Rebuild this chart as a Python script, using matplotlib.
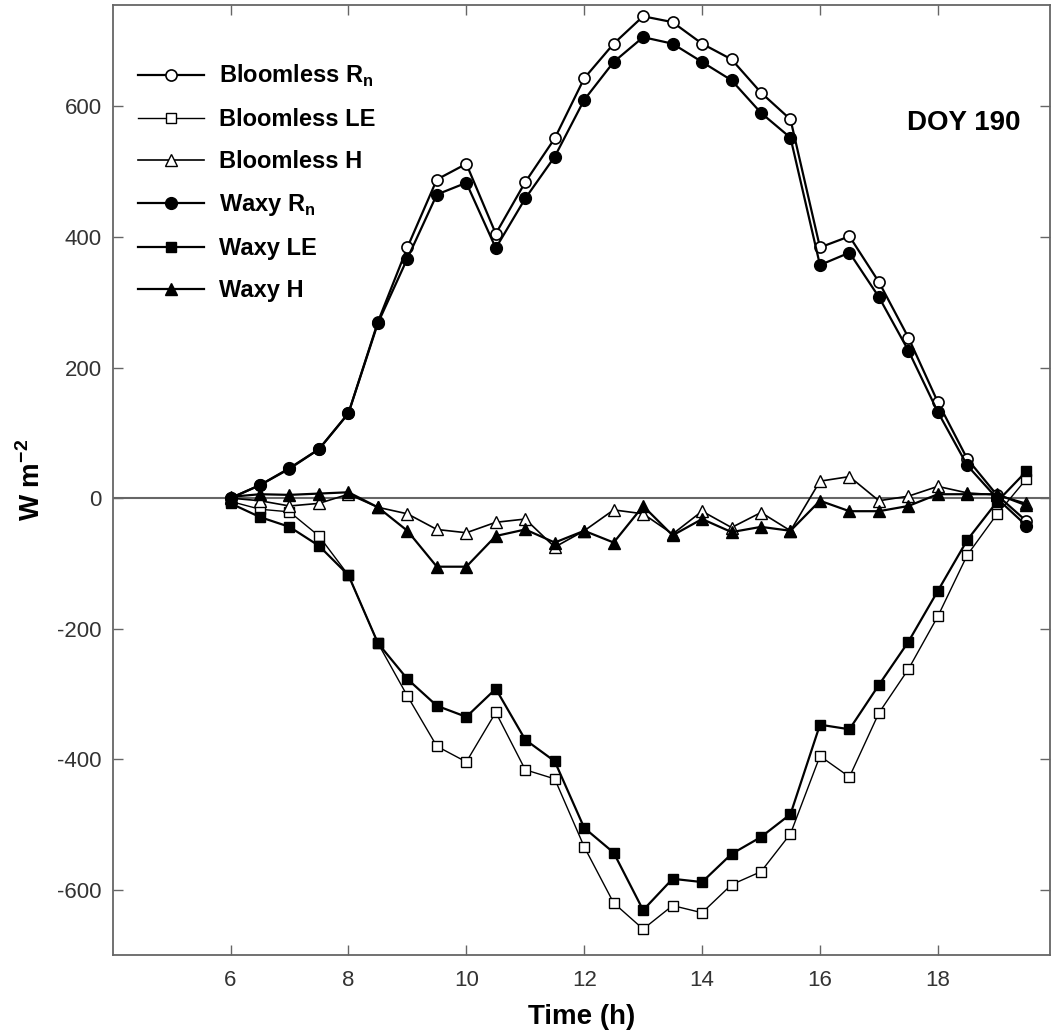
import numpy as np
import matplotlib.pyplot as plt

plt.rcParams['font.family'] = ['Liberation Sans', 'DejaVu Sans']
plt.rcParams['mathtext.fontset'] = 'custom'
plt.rcParams['mathtext.rm'] = 'Liberation Sans'
plt.rcParams['mathtext.bf'] = 'Liberation Sans:bold'
plt.rcParams['axes.unicode_minus'] = False

# Hora del día (h)
time_h = np.arange(6, 19.51, 0.5)

# Flujos (W m-2)
bloomless_rn = [0, 20, 45, 75, 130, 270, 384, 488, 512, 405, 484, 551, 643, 696,
                738, 729, 696, 672, 621, 580, 384, 401, 331, 246, 147, 60, 5, -35]
bloomless_le = [-5, -17, -21, -58, -118, -222, -303, -380, -404, -328, -416, -430, -534, -620,
                -660, -624, -635, -592, -572, -514, -395, -427, -329, -262, -181, -87, -25, 29]
bloomless_h = [0, -4, -12, -8, 6, -14, -24, -48, -53, -37, -32, -75, -50, -18,
               -24, -55, -20, -45, -22, -50, 26, 33, -4, 3, 18, 8, 5, -8]
waxy_rn = [0, 20, 46, 75, 130, 268, 367, 465, 483, 383, 459, 523, 610, 668,
           706, 696, 668, 640, 590, 552, 357, 376, 308, 226, 132, 50, 0, -42]
waxy_le = [-8, -29, -44, -73, -118, -222, -277, -318, -335, -292, -370, -403, -505, -543,
           -631, -583, -588, -545, -519, -484, -347, -354, -286, -220, -142, -64, -6, 41]
waxy_h = [2, 6, 5, 7, 9, -14, -50, -105, -105, -58, -48, -68, -50, -68,
          -12, -57, -32, -52, -44, -50, -4, -20, -20, -12, 6, 6, 6, -11]

fig = plt.figure(figsize=(10.53, 10.36), dpi=100)
ax = fig.add_axes([0.107, 0.078, 0.89, 0.917])

ax.axhline(0, color='#666666', lw=1.5, zorder=1)

k = dict(color='black', markeredgecolor='black', clip_on=False)
ax.plot(time_h, bloomless_rn, '-o', lw=1.6, ms=8, mfc='white', mew=1.2,
        label=r'Bloomless R$_\mathbf{n}$', **k)
ax.plot(time_h, bloomless_le, '-s', lw=1.0, ms=6.5, mfc='white', mew=1.0,
        label='Bloomless LE', **k)
ax.plot(time_h, bloomless_h, '-^', lw=1.2, ms=9, mfc='white', mew=1.0,
        label='Bloomless H', **k)
ax.plot(time_h, waxy_rn, '-o', lw=1.6, ms=8.5, mfc='black', label=r'Waxy R$_\mathbf{n}$', **k)
ax.plot(time_h, waxy_le, '-s', lw=1.6, ms=7, mfc='black', label='Waxy LE', **k)
ax.plot(time_h, waxy_h, '-^', lw=1.6, ms=9, mfc='black', label='Waxy H', **k)

ax.set_xlim(4, 19.9)
ax.set_ylim(-700, 755)
ax.set_xticks([6, 8, 10, 12, 14, 16, 18])
ax.set_yticks([-600, -400, -200, 0, 200, 400, 600])

for s in ax.spines.values():
    s.set_color('#666666')
    s.set_linewidth(1.3)
ax.tick_params(direction='in', top=True, right=True, length=7, width=1,
               color='#666666', labelsize=16, labelcolor='#333333')
ax.tick_params(axis='y', pad=8)
ax.tick_params(axis='x', pad=11)

ax.set_xlabel('Time (h)', fontsize=20, fontweight='bold', labelpad=9)
ax.set_ylabel(r'W m$^{\mathbf{-2}}$', fontsize=20, fontweight='bold', labelpad=8)

ax.text(18.44, 574, 'DOY 190', fontsize=20, fontweight='bold', ha='center', va='center')

leg = ax.legend(loc='upper left', bbox_to_anchor=(0.027, 0.939), frameon=False,
                borderaxespad=0, borderpad=0,
                numpoints=1, handlelength=2.8, handletextpad=0.65,
                labelspacing=0.8, prop={'weight': 'bold', 'size': 17})

fig.savefig('out.png', dpi=100)
